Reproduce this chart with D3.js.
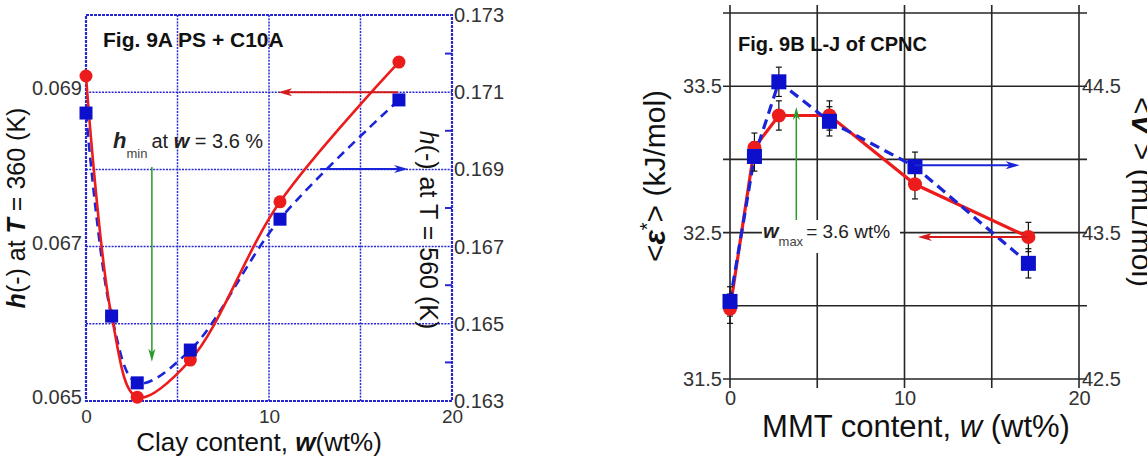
<!DOCTYPE html>
<html>
<head>
<meta charset="utf-8">
<script src="https://cdn.jsdelivr.net/npm/d3@7"></script>
<style>
  body { margin: 0; background: #fff; }
  svg text { font-family: "Liberation Sans", Arial, Helvetica, sans-serif; }
</style>
</head>
<body>
<svg id="chart" width="1147" height="458"></svg>
<script>
// ---- Fig. 9A : PS + C10A ----
var clayW   = [0, 1.4, 2.8, 5.7, 10.6, 17.1];
var h360    = [0.06921, 0.0661, 0.06505, 0.06553, 0.06758, 0.06939];   // left axis
var h560    = [0.17046, 0.1652, 0.16347, 0.16432, 0.16771, 0.1708];    // right axis
var h360Ticks = [0.065, 0.067, 0.069];
var h560Ticks = [0.163, 0.165, 0.167, 0.169, 0.171, 0.173];
var clayTicks = [0, 10, 20];

// ---- Fig. 9B : L-J of CPNC ----
var mmtW    = [0, 1.4, 2.8, 5.7, 10.6, 17.1];
var epsStar = [31.98, 33.08, 33.30, 33.30, 32.83, 32.47];  // left axis, kJ/mol
var epsErr  = [0.1, 0.1, 0.1, 0.1, 0.1, 0.1];
var volV    = [43.03, 44.02, 44.53, 44.26, 43.95, 43.29];  // right axis, mL/mol
var volErr  = [0.1, 0.1, 0.1, 0.1, 0.1, 0.1];
var epsTicks = [31.5, 32.5, 33.5];
var volTicks = [42.5, 43.5, 44.5];
var mmtTicks = [0, 10, 20];

var RED = "#ec1c1c", BLUE = "#0c10cc", GREEN = "#2a9a2a", GRIDBLUE = "#2828d2";

var svg = d3.select("#chart");

function drawArrow(g, x1, y1, x2, y2, color, lw, hl, hw) {
  var a = Math.atan2(y2 - y1, x2 - x1), c = Math.cos(a), s = Math.sin(a);
  g.append("line")
    .attr("x1", x1).attr("y1", y1)
    .attr("x2", x2 - hl * 0.6 * c).attr("y2", y2 - hl * 0.6 * s)
    .attr("stroke", color).attr("stroke-width", lw);
  var bx = x2 - hl * c, by = y2 - hl * s, px = -s, py = c;
  var nx = x2 - hl * 0.72 * c, ny = y2 - hl * 0.72 * s;
  g.append("path")
    .attr("d", "M" + x2 + "," + y2 + "L" + (bx + px * hw) + "," + (by + py * hw) +
               "L" + nx + "," + ny + "L" + (bx - px * hw) + "," + (by - py * hw) + "Z")
    .attr("fill", color);
}

// ================= panel A =================
var xA  = d3.scaleLinear().domain([0, 20]).range([86, 452]),
    yA  = d3.scaleLinear().domain([0.065, 0.070]).range([401, 15]),
    yA2 = d3.scaleLinear().domain([0.163, 0.173]).range([401, 15]);

var gA = svg.append("g");

gA.selectAll(".vg").data([5, 10, 15]).enter().append("line")
  .attr("x1", function(d) { return xA(d); }).attr("x2", function(d) { return xA(d); })
  .attr("y1", yA(0.070)).attr("y2", yA(0.065))
  .attr("stroke", GRIDBLUE).attr("stroke-width", 1.5).attr("stroke-dasharray", "2,1.2");
gA.selectAll(".hg").data([0.066, 0.067, 0.068, 0.069]).enter().append("line")
  .attr("x1", xA(0)).attr("x2", xA(20))
  .attr("y1", function(d) { return yA(d); }).attr("y2", function(d) { return yA(d); })
  .attr("stroke", GRIDBLUE).attr("stroke-width", 1.5).attr("stroke-dasharray", "2,1.2");
gA.append("rect")
  .attr("x", xA(0)).attr("y", yA(0.070))
  .attr("width", xA(20) - xA(0)).attr("height", yA(0.065) - yA(0.070))
  .attr("fill", "none").attr("stroke", GRIDBLUE).attr("stroke-width", 2.2).attr("stroke-dasharray", "3,1");
// inward minor ticks on right axis
gA.selectAll(".rt").data([0.164, 0.166, 0.168, 0.170, 0.172]).enter().append("line")
  .attr("x1", xA(20) - 7).attr("x2", xA(20))
  .attr("y1", function(d) { return yA2(d); }).attr("y2", function(d) { return yA2(d); })
  .attr("stroke", GRIDBLUE).attr("stroke-width", 2);

var axL = gA.append("g").attr("transform", "translate(" + xA(0) + ",0)")
  .call(d3.axisLeft(yA).tickValues(h360Ticks).tickFormat(d3.format(".3f")).tickSize(0).tickPadding(4));
var axR = gA.append("g").attr("transform", "translate(" + xA(20) + ",0)")
  .call(d3.axisRight(yA2).tickValues(h560Ticks).tickFormat(d3.format(".3f")).tickSize(0).tickPadding(2));
var axB = gA.append("g").attr("transform", "translate(0," + yA(0.065) + ")")
  .call(d3.axisBottom(xA).tickValues(clayTicks).tickFormat(d3.format("d")).tickSize(0));
[axL, axR, axB].forEach(function(a) {
  a.select(".domain").remove();
  a.selectAll("text").attr("font-size", 20).attr("fill", "#333")
    .style("font-family", "Liberation Sans, Arial, sans-serif");
});
axL.selectAll("text").attr("dy", "0.12em");
axB.selectAll("text").attr("y", 15).attr("dy", "0.35em").attr("font-size", 19);

var lineA = d3.line().curve(d3.curveCatmullRom.alpha(0.5));
gA.append("path")
  .attr("d", lineA(clayW.map(function(w, i) { return [xA(w), yA2(h560[i])]; })))
  .attr("fill", "none").attr("stroke", "#1a24d8").attr("stroke-width", 2.6).attr("stroke-dasharray", "9,6");
gA.append("path")
  .attr("d", lineA(clayW.map(function(w, i) { return [xA(w), yA(h360[i])]; })))
  .attr("fill", "none").attr("stroke", RED).attr("stroke-width", 2.6);

gA.selectAll(".rc").data(h360).enter().append("circle")
  .attr("cx", function(d, i) { return xA(clayW[i]); }).attr("cy", function(d) { return yA(d); })
  .attr("r", 6.5).attr("fill", RED);
gA.selectAll(".bs").data(h560).enter().append("rect")
  .attr("x", function(d, i) { return xA(clayW[i]) - 6.5; }).attr("y", function(d) { return yA2(d) - 6.5; })
  .attr("width", 13).attr("height", 13).attr("fill", BLUE);

drawArrow(gA, xA(17.05), yA(0.069), xA(10.5), yA(0.069), "#d41a1a", 2, 14, 4);
drawArrow(gA, xA(12.8), yA2(0.16901), xA(17.6), yA2(0.16901), "#1a24d8", 2, 14, 4);
drawArrow(gA, xA(3.6), yA(0.06803), xA(3.6), yA(0.06551), GREEN, 1.5, 13, 3.5);

gA.append("text").attr("x", 103).attr("y", 47).attr("font-size", 21).attr("font-weight", "bold")
  .attr("fill", "#111").text("Fig. 9A PS + C10A");

var tA = gA.append("text").attr("x", 113).attr("y", 148).attr("font-size", 20).attr("fill", "#222");
tA.append("tspan").attr("font-weight", "bold").attr("font-style", "italic").attr("font-size", 22).text("h");
tA.append("tspan").attr("font-size", 13).attr("dy", 10).attr("fill", "#444").text("min");
tA.append("tspan").attr("dy", -10).attr("dx", 4).text("at ");
tA.append("tspan").attr("font-weight", "bold").attr("font-style", "italic").text("w");
tA.append("tspan").text(" = 3.6 %");

var yl = gA.append("text").attr("transform", "translate(25,208) rotate(-90)")
  .attr("text-anchor", "middle").attr("font-size", 25).attr("fill", "#111");
yl.append("tspan").attr("font-weight", "bold").attr("font-style", "italic").text("h");
yl.append("tspan").text("(-) at ");
yl.append("tspan").attr("font-weight", "bold").attr("font-style", "italic").text("T");
yl.append("tspan").text(" = 360 (K)");

var yr = gA.append("text").attr("transform", "translate(420,230) rotate(90)")
  .attr("text-anchor", "middle").attr("font-size", 25).attr("fill", "#111");
yr.append("tspan").attr("font-style", "italic").text("h");
yr.append("tspan").text("(-) at T = 560 (K)");

var xl = gA.append("text").attr("x", 259).attr("y", 451)
  .attr("text-anchor", "middle").attr("font-size", 26).attr("fill", "#111");
xl.append("tspan").text("Clay content, ");
xl.append("tspan").attr("font-weight", "bold").attr("font-style", "italic").text("w");
xl.append("tspan").text("(wt%)");

// ================= panel B =================
var xB  = d3.scaleLinear().domain([0, 20]).range([730, 1079]),
    yB  = d3.scaleLinear().domain([31.5, 34]).range([379, 13]),
    yB2 = d3.scaleLinear().domain([42.5, 45]).range([379, 13]);

var gB = svg.append("g");

gB.selectAll(".vg").data([0, 5, 10, 15, 20]).enter().append("line")
  .attr("x1", function(d) { return xB(d); }).attr("x2", function(d) { return xB(d); })
  .attr("y1", yB(34) - 8).attr("y2", yB(31.5) + 9)
  .attr("stroke", "#262626").attr("stroke-width", 1.6);
gB.selectAll(".hg").data([31.5, 32, 32.5, 33, 33.5, 34]).enter().append("line")
  .attr("x1", xB(0) - 7).attr("x2", xB(20) + 8)
  .attr("y1", function(d) { return yB(d); }).attr("y2", function(d) { return yB(d); })
  .attr("stroke", "#262626").attr("stroke-width", 1.6);

var bL = gB.append("g").attr("transform", "translate(" + xB(0) + ",0)")
  .call(d3.axisLeft(yB).tickValues(epsTicks).tickFormat(d3.format(".1f")).tickSize(0).tickPadding(8));
var bR = gB.append("g").attr("transform", "translate(" + xB(20) + ",0)")
  .call(d3.axisRight(yB2).tickValues(volTicks).tickFormat(d3.format(".1f")).tickSize(0).tickPadding(3));
var bB = gB.append("g").attr("transform", "translate(0," + yB(31.5) + ")")
  .call(d3.axisBottom(xB).tickValues(mmtTicks).tickFormat(d3.format("d")).tickSize(0));
[bL, bR, bB].forEach(function(a) {
  a.select(".domain").remove();
  a.selectAll("text").attr("font-size", 20).attr("fill", "#333")
    .style("font-family", "Liberation Sans, Arial, sans-serif");
});
bB.selectAll("text").attr("y", 19).attr("dy", "0.35em");

// white box behind the w_max label
gB.append("rect").attr("x", 762).attr("y", 220).attr("width", 138).attr("height", 33).attr("fill", "#fff");

var lineB = d3.line();
gB.append("path")
  .attr("d", lineB(mmtW.map(function(w, i) { return [xB(w), yB(epsStar[i])]; })))
  .attr("fill", "none").attr("stroke", RED).attr("stroke-width", 3.2);
gB.append("path")
  .attr("d", lineB(mmtW.map(function(w, i) { return [xB(w), yB2(volV[i])]; })))
  .attr("fill", "none").attr("stroke", "#1a24d8").attr("stroke-width", 3.2).attr("stroke-dasharray", "10,6");

function errBars(vals, errs, ys) {
  vals.forEach(function(v, i) {
    var x = xB(mmtW[i]), y1 = ys(v - errs[i]), y2 = ys(v + errs[i]);
    gB.append("line").attr("x1", x).attr("x2", x).attr("y1", y1).attr("y2", y2)
      .attr("stroke", "#111").attr("stroke-width", 1.2);
    [y1, y2].forEach(function(y) {
      gB.append("line").attr("x1", x - 3).attr("x2", x + 3).attr("y1", y).attr("y2", y)
        .attr("stroke", "#111").attr("stroke-width", 1.2);
    });
  });
}
errBars(epsStar, epsErr, yB);
errBars(volV, volErr, yB2);

gB.selectAll(".rc").data(epsStar).enter().append("circle")
  .attr("cx", function(d, i) { return xB(mmtW[i]); }).attr("cy", function(d) { return yB(d); })
  .attr("r", 7).attr("fill", RED);
gB.selectAll(".bs").data(volV).enter().append("rect")
  .attr("x", function(d, i) { return xB(mmtW[i]) - 7.5; }).attr("y", function(d) { return yB2(d) - 7.5; })
  .attr("width", 15).attr("height", 15).attr("fill", BLUE);

drawArrow(gB, xB(17.1), yB(32.47), xB(10.77), yB(32.47), "#d41a1a", 2, 14, 4);
drawArrow(gB, xB(10.6), yB2(43.96), xB(16.6), yB2(43.96), "#1a24d8", 2, 14, 4);
drawArrow(gB, xB(3.8), yB(32.586), xB(3.8), yB(33.358), GREEN, 1.5, 13, 3.5);

gB.append("text").attr("x", 738).attr("y", 51).attr("font-size", 20).attr("font-weight", "bold")
  .attr("fill", "#111").text("Fig. 9B L-J of CPNC");

var tB = gB.append("text").attr("x", 763).attr("y", 238).attr("font-size", 19).attr("fill", "#222");
tB.append("tspan").attr("font-weight", "bold").attr("font-style", "italic").attr("font-size", 20).text("w");
tB.append("tspan").attr("font-size", 13).attr("dy", 8).attr("fill", "#444").text("max");
tB.append("tspan").attr("dy", -8).attr("dx", 3).text("= 3.6 wt%");

var byl = gB.append("text").attr("transform", "translate(665,176) rotate(-90)")
  .attr("text-anchor", "middle").attr("font-size", 30).attr("fill", "#111");
byl.append("tspan").text("<");
byl.append("tspan").attr("font-style", "italic").attr("font-weight", "bold").text("\u03b5");
byl.append("tspan").attr("font-size", 20).attr("dy", -11).text("*");
byl.append("tspan").attr("dy", 11).text("> (kJ/mol)");

var byr = gB.append("text").attr("transform", "translate(1132,192) rotate(90)")
  .attr("text-anchor", "middle").attr("font-size", 30).attr("fill", "#111");
byr.append("tspan").text("<");
byr.append("tspan").attr("font-style", "italic").attr("font-weight", "bold").text("V");
byr.append("tspan").text(" > (mL/mol)");

var bxl = gB.append("text").attr("x", 916).attr("y", 437)
  .attr("text-anchor", "middle").attr("font-size", 31).attr("fill", "#111");
bxl.append("tspan").text("MMT content, ");
bxl.append("tspan").attr("font-style", "italic").text("w");
bxl.append("tspan").text(" (wt%)");
</script>
</body>
</html>
